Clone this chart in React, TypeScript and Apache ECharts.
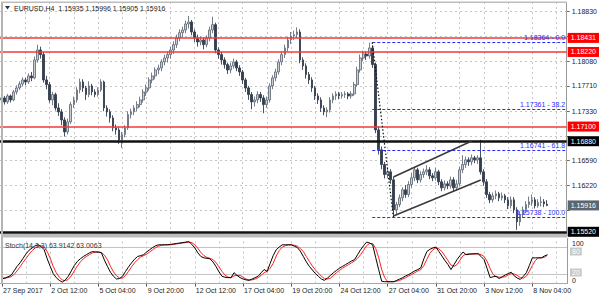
import React, { useEffect, useRef } from "react";
import * as echarts from "echarts";

const FONT = "Liberation Sans";
const MONTHS = ["Jan", "Feb", "Mar", "Apr", "May", "Jun", "Jul", "Aug", "Sep", "Oct", "Nov", "Dec"];
const FIRST_BAR = "2017-09-27T20:00:00Z";
const SLOT_COUNT = 188;
const LABEL_EVERY = 16;
const GRID_EVERY = 8;

// [open, close, low, high]
const ohlc: number[][] = [
  [1.1750, 1.1753, 1.1745, 1.1757], [1.1753, 1.1747, 1.1743, 1.1756], [1.1747, 1.1756, 1.1744, 1.1759],
  [1.1756, 1.1750, 1.1746, 1.1758], [1.1750, 1.1762, 1.1748, 1.1765], [1.1762, 1.1768, 1.1758, 1.1772],
  [1.1768, 1.1774, 1.1765, 1.1778], [1.1774, 1.1780, 1.1770, 1.1784], [1.1780, 1.1777, 1.1772, 1.1783],
  [1.1777, 1.1786, 1.1774, 1.1790], [1.1786, 1.1783, 1.1778, 1.1792], [1.1783, 1.1810, 1.1781, 1.1815],
  [1.1810, 1.1825, 1.1806, 1.1833], [1.1825, 1.1818, 1.1812, 1.1830], [1.1818, 1.1780, 1.1776, 1.1822],
  [1.1780, 1.1773, 1.1766, 1.1786], [1.1773, 1.1750, 1.1746, 1.1777], [1.1750, 1.1758, 1.1742, 1.1762],
  [1.1758, 1.1738, 1.1734, 1.1761], [1.1738, 1.1732, 1.1726, 1.1745], [1.1732, 1.1720, 1.1712, 1.1736],
  [1.1720, 1.1702, 1.1695, 1.1724], [1.1702, 1.1717, 1.1698, 1.1722], [1.1717, 1.1743, 1.1714, 1.1747],
  [1.1743, 1.1750, 1.1738, 1.1755], [1.1750, 1.1765, 1.1746, 1.1769], [1.1765, 1.1777, 1.1760, 1.1782],
  [1.1777, 1.1768, 1.1762, 1.1781], [1.1768, 1.1758, 1.1750, 1.1771], [1.1758, 1.1771, 1.1754, 1.1778],
  [1.1771, 1.1762, 1.1757, 1.1774], [1.1762, 1.1758, 1.1754, 1.1766], [1.1758, 1.1765, 1.1755, 1.1769],
  [1.1765, 1.1777, 1.1762, 1.1781], [1.1777, 1.1738, 1.1733, 1.1779], [1.1738, 1.1732, 1.1725, 1.1742],
  [1.1732, 1.1723, 1.1716, 1.1736], [1.1723, 1.1708, 1.1703, 1.1727], [1.1708, 1.1705, 1.1698, 1.1713],
  [1.1705, 1.1690, 1.1684, 1.1709], [1.1690, 1.1698, 1.1678, 1.1702], [1.1698, 1.1708, 1.1694, 1.1712],
  [1.1708, 1.1728, 1.1705, 1.1733], [1.1728, 1.1732, 1.1722, 1.1737], [1.1732, 1.1738, 1.1727, 1.1742],
  [1.1738, 1.1743, 1.1733, 1.1748], [1.1743, 1.1750, 1.1739, 1.1755], [1.1750, 1.1762, 1.1746, 1.1766],
  [1.1762, 1.1768, 1.1756, 1.1773], [1.1768, 1.1780, 1.1764, 1.1784], [1.1780, 1.1786, 1.1775, 1.1791],
  [1.1786, 1.1795, 1.1781, 1.1799], [1.1795, 1.1798, 1.1789, 1.1803], [1.1798, 1.1807, 1.1793, 1.1811],
  [1.1807, 1.1813, 1.1802, 1.1818], [1.1813, 1.1818, 1.1806, 1.1823], [1.1818, 1.1825, 1.1812, 1.1830],
  [1.1825, 1.1833, 1.1819, 1.1838], [1.1833, 1.1843, 1.1828, 1.1848], [1.1843, 1.1851, 1.1838, 1.1856],
  [1.1851, 1.1855, 1.1844, 1.1860], [1.1855, 1.1864, 1.1850, 1.1869], [1.1864, 1.1867, 1.1857, 1.1876],
  [1.1867, 1.1852, 1.1847, 1.1870], [1.1852, 1.1843, 1.1837, 1.1856], [1.1843, 1.1837, 1.1830, 1.1848],
  [1.1837, 1.1840, 1.1832, 1.1845], [1.1840, 1.1833, 1.1826, 1.1844], [1.1833, 1.1843, 1.1829, 1.1847],
  [1.1843, 1.1855, 1.1838, 1.1860], [1.1855, 1.1863, 1.1850, 1.1875], [1.1863, 1.1825, 1.1820, 1.1866],
  [1.1825, 1.1818, 1.1812, 1.1829], [1.1818, 1.1810, 1.1803, 1.1822], [1.1810, 1.1803, 1.1797, 1.1814],
  [1.1803, 1.1795, 1.1789, 1.1806], [1.1795, 1.1801, 1.1790, 1.1806], [1.1801, 1.1807, 1.1797, 1.1812],
  [1.1807, 1.1798, 1.1793, 1.1810], [1.1798, 1.1792, 1.1786, 1.1802], [1.1792, 1.1780, 1.1774, 1.1795],
  [1.1780, 1.1768, 1.1762, 1.1783], [1.1768, 1.1758, 1.1750, 1.1771], [1.1758, 1.1747, 1.1736, 1.1762],
  [1.1747, 1.1750, 1.1740, 1.1755], [1.1750, 1.1758, 1.1745, 1.1763], [1.1758, 1.1753, 1.1747, 1.1762],
  [1.1753, 1.1743, 1.1730, 1.1757], [1.1743, 1.1750, 1.1738, 1.1755], [1.1750, 1.1771, 1.1746, 1.1775],
  [1.1771, 1.1783, 1.1766, 1.1787], [1.1783, 1.1792, 1.1778, 1.1797], [1.1792, 1.1807, 1.1788, 1.1811],
  [1.1807, 1.1818, 1.1802, 1.1823], [1.1818, 1.1828, 1.1813, 1.1833], [1.1828, 1.1840, 1.1823, 1.1845],
  [1.1840, 1.1846, 1.1834, 1.1852], [1.1846, 1.1848, 1.1840, 1.1854], [1.1848, 1.1852, 1.1843, 1.1859],
  [1.1852, 1.1810, 1.1805, 1.1856], [1.1810, 1.1801, 1.1795, 1.1814], [1.1801, 1.1788, 1.1782, 1.1805],
  [1.1788, 1.1780, 1.1774, 1.1792], [1.1780, 1.1768, 1.1762, 1.1784], [1.1768, 1.1756, 1.1750, 1.1771],
  [1.1756, 1.1750, 1.1744, 1.1760], [1.1750, 1.1738, 1.1732, 1.1754], [1.1738, 1.1732, 1.1727, 1.1742],
  [1.1732, 1.1735, 1.1724, 1.1739], [1.1735, 1.1750, 1.1731, 1.1754], [1.1750, 1.1756, 1.1745, 1.1760],
  [1.1756, 1.1759, 1.1750, 1.1763], [1.1759, 1.1756, 1.1751, 1.1762], [1.1756, 1.1758, 1.1752, 1.1762],
  [1.1758, 1.1759, 1.1753, 1.1763], [1.1759, 1.1756, 1.1751, 1.1762], [1.1756, 1.1759, 1.1752, 1.1763],
  [1.1759, 1.1773, 1.1756, 1.1777], [1.1773, 1.1795, 1.1770, 1.1800], [1.1795, 1.1813, 1.1791, 1.1818],
  [1.1813, 1.1819, 1.1808, 1.1824], [1.1819, 1.1816, 1.1810, 1.1823], [1.1816, 1.1828, 1.1812, 1.1836],
  [1.1828, 1.1803, 1.1798, 1.1832], [1.1803, 1.1705, 1.1700, 1.1806], [1.1705, 1.1675, 1.1668, 1.1710],
  [1.1675, 1.1653, 1.1646, 1.1680], [1.1653, 1.1638, 1.1632, 1.1657], [1.1638, 1.1642, 1.1633, 1.1647],
  [1.1642, 1.1630, 1.1624, 1.1646], [1.1630, 1.1585, 1.1574, 1.1634], [1.1585, 1.1593, 1.1578, 1.1597],
  [1.1593, 1.1603, 1.1589, 1.1608], [1.1603, 1.1615, 1.1598, 1.1619], [1.1615, 1.1608, 1.1603, 1.1622],
  [1.1608, 1.1623, 1.1604, 1.1628], [1.1623, 1.1633, 1.1618, 1.1640], [1.1633, 1.1645, 1.1628, 1.1650],
  [1.1645, 1.1630, 1.1625, 1.1648], [1.1630, 1.1638, 1.1626, 1.1643], [1.1638, 1.1642, 1.1633, 1.1647],
  [1.1642, 1.1645, 1.1637, 1.1652], [1.1645, 1.1636, 1.1631, 1.1649], [1.1636, 1.1633, 1.1628, 1.1640],
  [1.1633, 1.1642, 1.1629, 1.1648], [1.1642, 1.1627, 1.1622, 1.1645], [1.1627, 1.1618, 1.1613, 1.1631],
  [1.1618, 1.1624, 1.1614, 1.1629], [1.1624, 1.1621, 1.1616, 1.1628], [1.1621, 1.1630, 1.1617, 1.1635],
  [1.1630, 1.1618, 1.1613, 1.1634], [1.1618, 1.1624, 1.1614, 1.1630], [1.1624, 1.1645, 1.1620, 1.1650],
  [1.1645, 1.1653, 1.1640, 1.1667], [1.1653, 1.1660, 1.1648, 1.1665], [1.1660, 1.1657, 1.1651, 1.1664],
  [1.1657, 1.1663, 1.1652, 1.1668], [1.1663, 1.1660, 1.1655, 1.1666], [1.1660, 1.1663, 1.1654, 1.1667],
  [1.1663, 1.1642, 1.1638, 1.1690], [1.1642, 1.1627, 1.1621, 1.1646], [1.1627, 1.1608, 1.1603, 1.1631],
  [1.1608, 1.1600, 1.1595, 1.1612], [1.1600, 1.1606, 1.1596, 1.1611], [1.1606, 1.1609, 1.1601, 1.1614],
  [1.1609, 1.1603, 1.1598, 1.1612], [1.1603, 1.1606, 1.1599, 1.1611], [1.1606, 1.1600, 1.1595, 1.1609],
  [1.1600, 1.1591, 1.1586, 1.1604], [1.1591, 1.1600, 1.1587, 1.1605], [1.1600, 1.1585, 1.1580, 1.1604],
  [1.1585, 1.1567, 1.1555, 1.1589], [1.1567, 1.1578, 1.1561, 1.1583], [1.1578, 1.1585, 1.1573, 1.1590],
  [1.1585, 1.1593, 1.1580, 1.1598], [1.1593, 1.1597, 1.1588, 1.1605], [1.1597, 1.1600, 1.1591, 1.1608],
  [1.1600, 1.1591, 1.1587, 1.1604], [1.1591, 1.1596, 1.1588, 1.1601], [1.1596, 1.1597, 1.1590, 1.1605],
  [1.1597, 1.1594, 1.1589, 1.1601], [1.15935, 1.15916, 1.15905, 1.15996],
];

const stochK: number[] = [
  10, 12, 15, 18, 28, 38, 46, 56, 66, 74, 79, 84, 86, 82, 75, 55, 38, 22, 13, 7,
  3, 8, 16, 28, 40, 49, 55, 60, 64, 68, 71, 70, 70, 68, 52, 38, 25, 16, 10, 11,
  16, 27, 37, 46, 54, 60, 62, 64, 70, 75, 80, 84, 86, 86, 86, 86, 87, 88, 89, 90,
  91, 92, 93, 87, 79, 68, 60, 57, 56, 55, 48, 38, 26, 16, 14, 13, 13, 24, 18, 13,
  10, 8, 7, 10, 13, 16, 24, 31, 27, 45, 62, 75, 81, 86, 86, 86, 86, 83, 80, 72,
  60, 48, 38, 30, 22, 16, 10, 7, 12, 18, 24, 29, 34, 38, 42, 46, 50, 53, 64, 75,
  84, 92, 90, 86, 58, 31, 5, 4, 4, 4, 4, 7, 10, 13, 17, 20, 24, 28, 31, 35,
  55, 71, 76, 79, 81, 71, 61, 51, 42, 31, 42, 53, 62, 70, 64, 65, 66, 66, 66, 60,
  53, 33, 13, 15, 16, 11, 15, 19, 22, 25, 17, 12, 9, 16, 24, 40, 57, 57, 57, 57,
  61, 63.9142,
];

const stochD: number[] = [
  12, 12, 13, 15, 20, 28, 37, 47, 56, 65, 73, 79, 83, 84, 81, 71, 56, 38, 24, 14,
  8, 6, 9, 17, 28, 39, 48, 55, 60, 64, 68, 70, 70, 69, 63, 53, 38, 26, 17, 12,
  12, 18, 27, 37, 46, 53, 59, 62, 65, 70, 75, 80, 83, 85, 86, 86, 86, 87, 88, 89,
  90, 91, 92, 91, 86, 78, 69, 62, 58, 56, 53, 47, 37, 27, 19, 14, 13, 17, 18, 18,
  14, 10, 8, 8, 10, 13, 18, 24, 27, 34, 45, 61, 73, 81, 84, 86, 86, 85, 83, 78,
  71, 60, 49, 39, 30, 23, 16, 11, 10, 12, 18, 24, 29, 34, 38, 42, 46, 50, 56, 64,
  74, 84, 89, 89, 78, 58, 31, 13, 4, 4, 4, 5, 7, 10, 13, 17, 20, 24, 28, 31,
  40, 54, 67, 75, 79, 77, 71, 61, 51, 41, 38, 42, 52, 62, 65, 66, 65, 66, 66, 64,
  60, 49, 33, 20, 15, 14, 14, 15, 19, 22, 21, 18, 13, 12, 16, 27, 40, 51, 57, 57,
  58, 63.0063,
];

// grid levels of the price scale; labels only where the reference shows them uncovered
const priceTicks = [1.1883, 1.1845, 1.1808, 1.1771, 1.1733, 1.1696, 1.1659, 1.1622, 1.1585];
const priceTickLabels = [1.1883, 1.1808, 1.1771, 1.1733, 1.1659, 1.1622];
const priceMin = 1.15487;
const priceMax = 1.18955;
const redLevels = [1.18431, 1.1822, 1.171];
const blackLevels = [1.1688, 1.1552];
const lastPrice = 1.15916;
const fibLevels = [
  { price: 1.18364, name: "0.0" },
  { price: 1.17361, name: "38.2" },
  { price: 1.16741, name: "61.8" },
  { price: 1.15738, name: "100.0" },
];
const fibStartBar = 123;
const rightEdgeBar = 187.45;
const trendLine = [[65.8, 1.18955], [187.5, 1.1745]];
const channelUpper = [[129.5, 1.16343], [156.3, 1.16883]];
const channelLower = [[129.8, 1.15757], [159.3, 1.16298]];
const fibDiagonal = [[123, 1.18364], [130, 1.15738]];
const stochLevels = [20, 80];

function buildCategories(): string[] {
  const out: string[] = [];
  let t = Date.parse(FIRST_BAR);
  while (out.length < SLOT_COUNT) {
    const d = new Date(t);
    const dow = d.getUTCDay();
    if (dow !== 0 && dow !== 6) {
      const hh = String(d.getUTCHours()).padStart(2, "0");
      out.push(
        out.length === 0
          ? `${d.getUTCDate()} ${MONTHS[d.getUTCMonth()]} ${d.getUTCFullYear()}`
          : `${d.getUTCDate()} ${MONTHS[d.getUTCMonth()]} ${hh}:00`
      );
    }
    t += 4 * 3600 * 1000;
  }
  return out;
}

export default function App() {
  const ref = useRef<HTMLDivElement>(null);
  useEffect(() => {
    if (!ref.current) return;
    const chart = echarts.init(ref.current, null, { renderer: "svg" });
    const cats = buildCategories();
    const gridX: number[] = [];
    for (let i = 0; i < SLOT_COUNT; i += GRID_EVERY) gridX.push(i);
    const gridLineStyle = { color: "#c6c6c6", width: 1, type: [2, 3] as any };

    const boxLabel = (v: number, bg: string) => ({
      show: true,
      position: "end",
      formatter: v.toFixed(5),
      backgroundColor: bg,
      color: "#ffffff",
      fontSize: 7,
      fontFamily: FONT,
      padding: [2, 3, 1, 3],
      distance: 1,
    });
    const seg = (pts: number[][], style: any) => [
      { coord: pts[0], lineStyle: style, label: { show: false } },
      { coord: pts[1], lineStyle: style, label: { show: false } },
    ];
    const fibStyle = { color: "#2b2bff", width: 1, type: [3, 2] as any };

    const option: any = {
      animation: false,
      backgroundColor: "#ffffff",
      grid: [
        { left: 0, right: 33, top: 3, height: 231 },
        { left: 0, right: 33, top: 238.5, height: 45 },
      ],
      xAxis: [
        { type: "category", data: cats, gridIndex: 0, boundaryGap: true, show: false },
        {
          type: "category",
          data: cats,
          gridIndex: 1,
          boundaryGap: true,
          axisLine: { show: true, lineStyle: { color: "#a8a8a8", width: 1 } },
          axisTick: {
            show: true,
            alignWithLabel: true,
            interval: (i: number) => i % LABEL_EVERY === 0,
            length: 3,
            lineStyle: { color: "#555" },
          },
          axisLabel: {
            interval: (i: number) => i % LABEL_EVERY === 0,
            align: "left",
            margin: 3,
            color: "#222",
            fontSize: 7,
            fontFamily: FONT,
            padding: [0, 0, 0, 1],
          },
          splitLine: { show: false },
        },
      ],
      yAxis: [
        {
          type: "value",
          gridIndex: 0,
          position: "right",
          min: priceMin,
          max: priceMax,
          axisLine: { show: true, lineStyle: { color: "#9a9a9a", width: 1 } },
          axisTick: { show: true, customValues: priceTicks, length: 3, lineStyle: { color: "#666" } },
          axisLabel: {
            customValues: priceTickLabels,
            formatter: (v: number) => v.toFixed(5),
            color: "#222",
            fontSize: 7,
            fontFamily: FONT,
            margin: 5,
          },
          splitLine: { show: false },
        },
        {
          type: "value",
          gridIndex: 1,
          position: "right",
          min: 0,
          max: 100,
          axisLine: { show: true, lineStyle: { color: "#9a9a9a", width: 1 } },
          axisTick: { show: false },
          axisLabel: { show: false },
          splitLine: { show: false },
        },
      ],
      series: [
        {
          type: "line",
          xAxisIndex: 0,
          yAxisIndex: 0,
          data: [],
          markLine: {
            silent: true,
            symbol: "none",
            precision: 6,
            z: 1,
            label: { show: false },
            lineStyle: gridLineStyle,
            data: [
              ...priceTicks.map((v) => ({ yAxis: v })),
              ...gridX.map((i) => ({ xAxis: i })),
            ],
          },
        },
        {
          type: "candlestick",
          xAxisIndex: 0,
          yAxisIndex: 0,
          data: ohlc,
          barWidth: 2.2,
          z: 3,
          itemStyle: {
            color: "#c9ced4",
            color0: "#34404e",
            borderColor: "#66707c",
            borderColor0: "#34404e",
            borderWidth: 0.9,
          },
          markLine: {
            silent: true,
            symbol: "none",
            precision: 6,
            z: 6,
            data: [
              ...redLevels.map((v) => ({
                yAxis: v,
                lineStyle: { color: "#f23a3a", width: 1.5, type: "solid" },
                label: boxLabel(v, "#ff0000"),
              })),
              ...blackLevels.map((v) => ({
                yAxis: v,
                lineStyle: { color: "#111111", width: 2.5, type: "solid" },
                label: boxLabel(v, "#000000"),
              })),
              {
                yAxis: lastPrice,
                lineStyle: { color: "rgba(0,0,0,0)", width: 0 },
                label: boxLabel(lastPrice, "#5c6670"),
              },
              ...fibLevels.map((f) => [
                {
                  coord: [fibStartBar, f.price],
                  lineStyle: fibStyle,
                  label: {
                    show: true,
                    position: "insideEndTop",
                    formatter: `${f.price.toFixed(5)} - ${f.name}`,
                    color: "#2b2bff",
                    fontSize: 7,
                    fontFamily: FONT,
                    distance: [0, 1],
                  },
                },
                { coord: [rightEdgeBar, f.price], lineStyle: fibStyle },
              ]),
              seg(trendLine, { color: "#222222", width: 1, type: "solid" }),
              seg(channelUpper, { color: "#3a3a3a", width: 1.5, type: "solid" }),
              seg(channelLower, { color: "#3a3a3a", width: 1.5, type: "solid" }),
              seg(fibDiagonal, { color: "#111111", width: 1.2, type: [1.5, 2] }),
            ],
          },
        },
        {
          type: "line",
          name: "D",
          xAxisIndex: 1,
          yAxisIndex: 1,
          data: stochD,
          symbol: "none",
          lineStyle: { color: "#ff2020", width: 1 },
          z: 3,
          markLine: {
            silent: true,
            symbol: "none",
            precision: 6,
            z: 1,
            label: { show: false },
            data: [
              ...stochLevels.map((v) => ({ yAxis: v, lineStyle: { color: "#c4c4c4", width: 1, type: "solid" } })),
              ...gridX.map((i) => ({ xAxis: i, lineStyle: gridLineStyle })),
            ],
          },
        },
        {
          type: "line",
          name: "K",
          xAxisIndex: 1,
          yAxisIndex: 1,
          data: stochK,
          symbol: "none",
          lineStyle: { color: "#000000", width: 1 },
          z: 4,
        },
      ],
      graphic: [
        { type: "rect", z: 100, shape: { x: 1, y: 2, width: 2, height: 282 }, style: { fill: "#b4b4b4" } },
        { type: "rect", z: 100, shape: { x: 1, y: 1.5, width: 566, height: 1.5 }, style: { fill: "#bdbdbd" } },
        { type: "rect", z: 100, shape: { x: 1, y: 234, width: 566, height: 3.5 }, style: { fill: "#bcbcbc" } },
        { type: "polygon", z: 100, shape: { points: [[5, 6], [10, 6], [7.5, 9.5]] }, style: { fill: "#333" } },
        {
          type: "text",
          z: 100,
          x: 14,
          y: 8,
          style: {
            text: "EURUSD,H4  1.15935 1.15996 1.15905 1.15916",
            fill: "#222",
            fontSize: 7,
            fontFamily: FONT,
            verticalAlign: "middle",
          },
        },
        {
          type: "text",
          z: 100,
          x: 5,
          y: 245.5,
          style: {
            text: "Stoch(14,3,3) 63.9142 63.0063",
            fill: "#333",
            fontSize: 7,
            fontFamily: FONT,
            verticalAlign: "middle",
          },
        },
        { type: "text", z: 100, x: 572, y: 243.5, style: { text: "100", fill: "#222", fontSize: 7, fontFamily: FONT, verticalAlign: "middle" } },
        {
          type: "text", z: 100, x: 570, y: 251.5,
          style: { text: "80", fill: "#ffffff", fontSize: 7, fontFamily: FONT, verticalAlign: "middle", backgroundColor: "#c9c9c9", padding: [1, 2, 0, 2] },
        },
        {
          type: "text", z: 100, x: 570, y: 272.5,
          style: { text: "20", fill: "#ffffff", fontSize: 7, fontFamily: FONT, verticalAlign: "middle", backgroundColor: "#c9c9c9", padding: [1, 2, 0, 2] },
        },
        { type: "text", z: 100, x: 572, y: 280.5, style: { text: "0", fill: "#222", fontSize: 7, fontFamily: FONT, verticalAlign: "middle" } },
      ],
    };
    chart.setOption(option);
    return () => chart.dispose();
  }, []);
  return (
    <div
      ref={ref}
      style={{ position: "fixed", left: 0, top: 0, width: 600, height: 300, background: "#fff" }}
    />
  );
}
